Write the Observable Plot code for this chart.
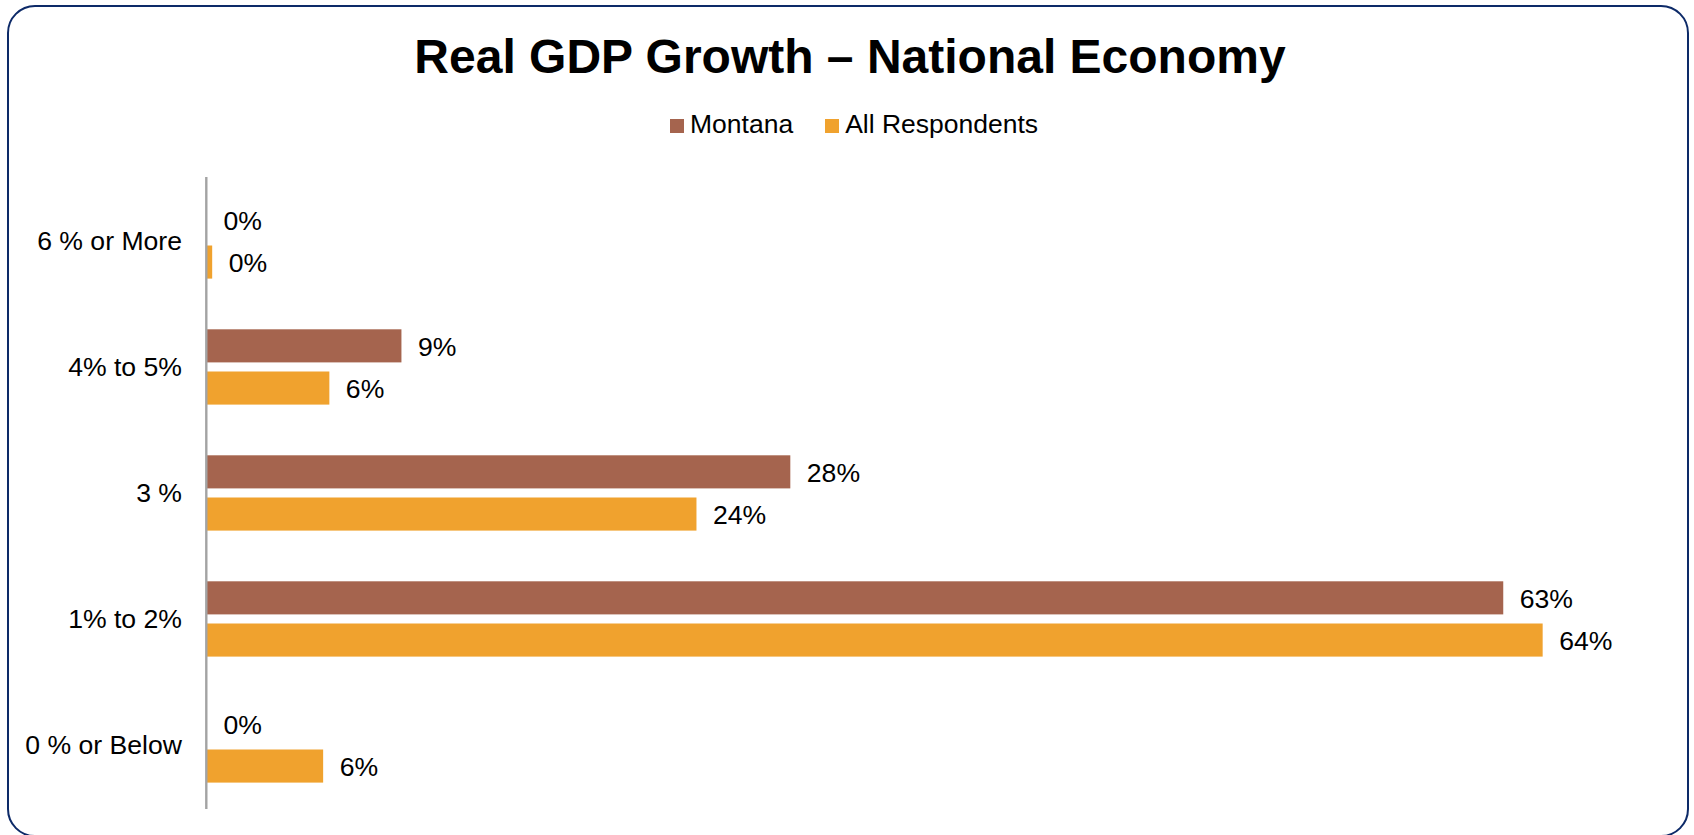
<!DOCTYPE html>
<html>
<head>
<meta charset="utf-8">
<script src="https://cdn.jsdelivr.net/npm/d3@7"></script>
<script src="https://cdn.jsdelivr.net/npm/@observablehq/plot@0.6"></script>
<style>
  html, body { margin: 0; padding: 0; background: #fff; }
  #wrap { position: relative; width: 1694px; height: 835px; overflow: hidden; font-family: "Liberation Sans", Arial, sans-serif; color: #000; }
  #frame { position: absolute; left: 7px; top: 5px; width: 1682px; height: 832px; box-sizing: border-box;
           border: 2.5px solid #0d2a68; border-radius: 28px; }
  #title { position: absolute; left: 3px; top: 33px; width: 1694px; text-align: center;
           font-weight: bold; font-size: 48px; line-height: 48px; white-space: nowrap; }
  #legend { position: absolute; left: 670px; top: 111px; height: 26px; display: flex; align-items: center;
            font-size: 26.5px; line-height: 26px; white-space: nowrap; }
  .item { display: flex; align-items: center; }
  .sw { display: inline-block; width: 14px; height: 14px; margin-right: 6px; position: relative; top: 2px; }
  #chart { position: absolute; left: 0; top: 150px; }
</style>
</head>
<body>
<div id="wrap">
  <div id="frame"></div>
  <div id="title">Real GDP Growth – National Economy</div>
  <div id="legend"></div>
  <div id="chart"></div>
</div>
<script>
const categories = ["6 % or More", "4% to 5%", "3 %", "1% to 2%", "0 % or Below"];
const montana = [0, 9.375, 28.125, 62.5, 0];
const allRespondents = [0.25, 5.9, 23.6, 64.4, 5.6];
const seriesNames = ["Montana", "All Respondents"];
const seriesColors = ["#A5644E", "#F0A22E"];

const data = categories.flatMap((c, i) => [
  {cat: c, series: seriesNames[0], value: montana[i]},
  {cat: c, series: seriesNames[1], value: allRespondents[i]}
]);
const mData = data.filter(d => d.series === seriesNames[0]);
const aData = data.filter(d => d.series === seriesNames[1]);
const fmt = d => Math.round(d.value) + "%";

// legend
const legend = document.getElementById("legend");
seriesNames.forEach((s, i) => {
  const it = document.createElement("div");
  it.className = "item";
  if (i > 0) it.style.marginLeft = "32px";
  const sw = document.createElement("span");
  sw.className = "sw";
  sw.style.background = seriesColors[i];
  it.appendChild(sw);
  it.appendChild(document.createTextNode(s));
  legend.appendChild(it);
});

const W = 1694, H = 685;
const chart = Plot.plot({
  width: W,
  height: H,
  marginLeft: 207,
  marginRight: 35.2,
  marginTop: 27,
  marginBottom: 26,
  style: {fontFamily: "'Liberation Sans', Arial, sans-serif", fontSize: "26.6px", color: "#000", background: "transparent", overflow: "visible"},
  x: {domain: [0, 70], axis: null},
  y: {domain: categories, padding: 0, tickSize: 0, tickPadding: 25.5, label: null},
  color: {domain: seriesNames, range: seriesColors},
  marks: [
    Plot.barX(mData, {x: "value", y: "cat", fill: "series", insetTop: 25.3, insetBottom: 67.6}),
    Plot.barX(aData, {x: "value", y: "cat", fill: "series", insetTop: 67.5, insetBottom: 25.4}),
    Plot.ruleX([0], {stroke: "#a3a3a3", strokeWidth: 2.4, dx: -1.2}),
    Plot.text(mData, {x: "value", y: "cat", text: fmt, dx: 16, dy: -20.5, textAnchor: "start", fill: "#000", fontSize: 26.6}),
    Plot.text(aData, {x: "value", y: "cat", text: fmt, dx: 16, dy: 21.8, textAnchor: "start", fill: "#000", fontSize: 26.6})
  ]
});
document.getElementById("chart").appendChild(chart);
</script>
</body>
</html>
